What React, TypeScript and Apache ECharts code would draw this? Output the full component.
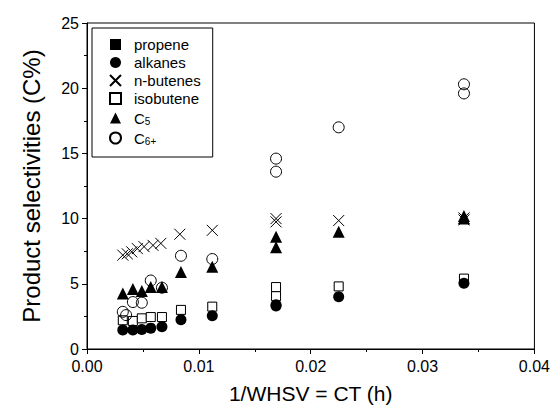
import React, { useEffect, useRef } from "react";
import * as echarts from "echarts";

// ---- data ----
const seriesNames = ["propene", "alkanes", "n-butenes", "isobutene", "C5", "C6+"];

const ctPropene = [0.0032, 0.0041, 0.0049, 0.0057, 0.0067, 0.0084, 0.0112, 0.0169, 0.0169, 0.0225, 0.0337];
const propene = [2.2, 2.15, 2.35, 2.45, 2.45, 3.0, 3.25, 4.75, 4.05, 4.8, 5.4];

const ctAlkanes = [0.0032, 0.0041, 0.0049, 0.0057, 0.0067, 0.0084, 0.0112, 0.0169, 0.0169, 0.0225, 0.0337];
const alkanes = [1.45, 1.45, 1.5, 1.6, 1.7, 2.25, 2.55, 3.4, 3.3, 4.0, 5.05];

const ctButenes = [0.0032, 0.0036, 0.004, 0.0045, 0.0051, 0.0059, 0.0066, 0.0083, 0.0112, 0.0169, 0.0169, 0.0225, 0.0337, 0.0337];
const nButenes = [7.2, 7.3, 7.45, 7.7, 7.85, 7.95, 8.1, 8.8, 9.1, 10.0, 9.75, 9.85, 10.05, 9.9];

const ctIsobutene = [0.0032, 0.0041, 0.0049, 0.0057, 0.0067, 0.0084, 0.0112, 0.0169, 0.0169, 0.0225, 0.0337];
const isobutene = [2.2, 2.15, 2.35, 2.45, 2.45, 3.0, 3.25, 4.75, 4.05, 4.8, 5.4];

const ctC5 = [0.0032, 0.0041, 0.0049, 0.0057, 0.0067, 0.0084, 0.0112, 0.0169, 0.0169, 0.0225, 0.0337, 0.0337];
const c5 = [4.25, 4.6, 4.45, 4.75, 4.75, 5.9, 6.3, 8.6, 7.8, 9.0, 10.2, 10.0];

const ctC6 = [0.0032, 0.0035, 0.0041, 0.0049, 0.0057, 0.0067, 0.0084, 0.0112, 0.0169, 0.0169, 0.0225, 0.0337, 0.0337];
const c6 = [2.85, 2.6, 3.6, 3.55, 5.25, 4.7, 7.15, 6.9, 14.6, 13.6, 17.0, 20.3, 19.6];

const xTicks = [0, 0.01, 0.02, 0.03, 0.04];
const yTicks = [0, 5, 10, 15, 20, 25];

const pairs = (xs: number[], ys: number[]) => xs.map((x, i) => [x, ys[i]]);

const FONT = "'Liberation Sans', Arial, sans-serif";
const CROSS = "path://M0,0L10,10M10,0L0,10";

export default function App() {
  const ref = useRef<HTMLDivElement>(null);
  useEffect(() => {
    if (!ref.current) return;
    const chart = echarts.init(ref.current, null, { renderer: "svg" });
    const base = { type: "scatter" as const, symbolSize: 10 };
    chart.setOption({
      animation: false,
      backgroundColor: "#fff",
      textStyle: { fontFamily: FONT, color: "#000" },
      grid: { left: 87, right: 17, top: 23, bottom: 63, show: true, borderColor: "#000", borderWidth: 1 },
      legend: {
        orient: "vertical",
        left: 92,
        top: 28,
        data: seriesNames,
        itemWidth: 11,
        itemHeight: 11,
        itemGap: 3,
        padding: [9, 12, 11, 17],
        borderColor: "#000",
        borderWidth: 1,
        formatter: (name: string) => {
          if (name === "C5") return "{n|C}{s|5}";
          if (name === "C6+") return "{n|C}{s|6+}";
          return "{n|" + name + "}";
        },
        textStyle: {
          fontFamily: FONT,
          fontSize: 15,
          color: "#000",
          rich: {
            n: { fontFamily: FONT, fontSize: 15, lineHeight: 16, color: "#000", padding: [0, 0, 0, 8] },
            s: { fontFamily: FONT, fontSize: 10, lineHeight: 10, color: "#000", verticalAlign: "bottom", padding: [7, 0, 0, 0] },
          },
        },
      },
      xAxis: {
        type: "value",
        min: xTicks[0],
        max: xTicks[xTicks.length - 1],
        interval: 0.01,
        name: "1/WHSV = CT (h)",
        nameLocation: "middle",
        nameGap: 34,
        nameTextStyle: { fontFamily: FONT, fontSize: 21, color: "#000" },
        axisLine: { show: true, lineStyle: { color: "#000", width: 1 } },
        axisTick: { show: true, inside: false, length: 5, lineStyle: { color: "#000" } },
        minorTick: { show: true, splitNumber: 2, length: 3, lineStyle: { color: "#000" } },
        splitLine: { show: false },
        axisLabel: {
          fontFamily: FONT,
          fontSize: 16,
          color: "#000",
          margin: 9,
          formatter: (v: number) => v.toFixed(2),
        },
      },
      yAxis: {
        type: "value",
        min: yTicks[0],
        max: yTicks[yTicks.length - 1],
        interval: 5,
        name: "Product selectivities (C%)",
        nameLocation: "middle",
        nameGap: 44,
        nameTextStyle: { fontFamily: FONT, fontSize: 24, color: "#000" },
        axisLine: { show: true, lineStyle: { color: "#000", width: 1 } },
        axisTick: { show: true, inside: false, length: 5, lineStyle: { color: "#000" } },
        minorTick: { show: true, splitNumber: 2, length: 3, lineStyle: { color: "#000" } },
        splitLine: { show: false },
        axisLabel: { fontFamily: FONT, fontSize: 16, color: "#000", margin: 8 },
      },
      series: [
        {
          ...base,
          name: "propene",
          symbol: "rect",
          symbolSize: 9,
          itemStyle: { color: "#000", opacity: 1 },
          data: pairs(ctPropene, propene),
          z: 1,
        },
        {
          ...base,
          name: "isobutene",
          symbol: "rect",
          symbolSize: 9,
          itemStyle: { color: "#fff", borderColor: "#000", borderWidth: 1, opacity: 1 },
          data: pairs(ctIsobutene, isobutene),
          z: 2,
        },
        {
          ...base,
          name: "alkanes",
          symbol: "circle",
          symbolSize: 11,
          itemStyle: { color: "#000", opacity: 1 },
          data: pairs(ctAlkanes, alkanes),
          z: 3,
        },
        {
          ...base,
          name: "n-butenes",
          symbol: CROSS,
          symbolSize: 11,
          itemStyle: { color: "rgba(0,0,0,0)", borderColor: "#000", borderWidth: 1, opacity: 1 },
          data: pairs(ctButenes, nButenes),
          z: 4,
        },
        {
          ...base,
          name: "C5",
          symbol: "triangle",
          symbolSize: 12,
          itemStyle: { color: "#000", opacity: 1 },
          data: pairs(ctC5, c5),
          z: 5,
        },
        {
          ...base,
          name: "C6+",
          symbol: "circle",
          symbolSize: 11,
          itemStyle: { color: "rgba(0,0,0,0)", borderColor: "#000", borderWidth: 1, opacity: 1 },
          data: pairs(ctC6, c6),
          z: 6,
        },
      ],
    });
    return () => chart.dispose();
  }, []);
  return <div ref={ref} style={{ width: 553, height: 412, position: "absolute", left: 0, top: 0 }} />;
}
